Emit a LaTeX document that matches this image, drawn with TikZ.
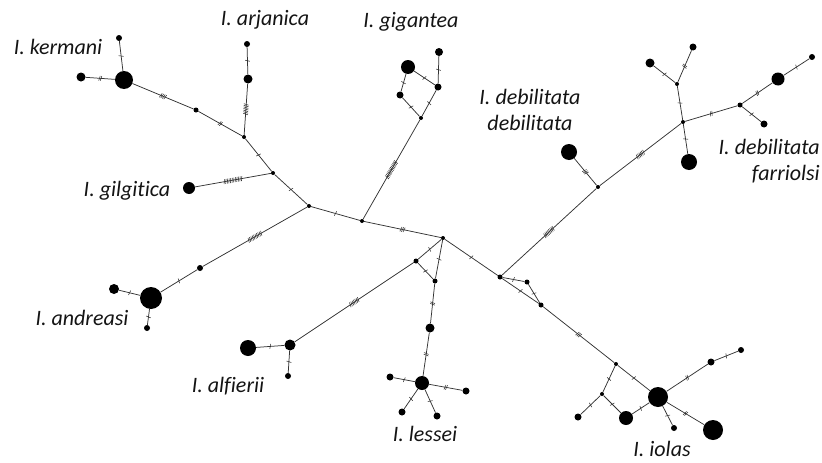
\documentclass[tikz,border=0pt]{standalone}
\usepackage{fontspec}
\setmainfont[Ligatures=NoCommon]{Carlito}
\usetikzlibrary{decorations.markings}
\tikzset{
  hap/.style={circle, fill=black, draw=none, inner sep=0pt, minimum size=#1},
  lbl/.style={font=\fontsize{22}{26}\selectfont\itshape, text=black!92, inner sep=0pt},
  link/.style={draw=black!80, line width=0.75pt},
  mut/.style 2 args={postaction={decorate, decoration={markings,
     mark=at position #1 with {\foreach \k in {1,...,#2}{\draw[black!80, line width=0.55pt] ({(\k-(#2+1)/2)*1.6pt-0.6pt},-2.4pt) -- ++(1.2pt,4.8pt);}}}}}
}
\begin{document}
\begin{tikzpicture}[x=1pt, y=-1pt]
\useasboundingbox (0,0) rectangle (822,463);
% nodes
\node[hap=18pt] (k1) at (124,80) {};
\node[hap=9pt] (k2) at (81,77) {};
\node[hap=6pt] (k3) at (119,38) {};
\node[hap=5pt] (n1) at (196,110) {};
\node[hap=4pt] (j1) at (244,137) {};
\node[hap=6pt] (a1) at (247,44) {};
\node[hap=9pt] (a2) at (248,79) {};
\node[hap=4pt] (j2) at (273,173) {};
\node[hap=12pt] (g1) at (189,188) {};
\node[hap=4pt] (j3) at (309,206) {};
\node[hap=6pt] (n2) at (200,268) {};
\node[hap=22pt] (an1) at (151,298) {};
\node[hap=10pt] (an2) at (114,289) {};
\node[hap=6pt] (an3) at (147,328) {};
\node[hap=4pt] (j4) at (362,221) {};
\node[hap=4pt] (gg0) at (421,118) {};
\node[hap=14pt] (gg1) at (408,67) {};
\node[hap=8pt] (gg2) at (439,52) {};
\node[hap=7pt] (gg3) at (438,87) {};
\node[hap=7pt] (gg4) at (400,95) {};
\node[hap=4pt] (j5) at (443,238) {};
\node[hap=5pt] (j6) at (416,261) {};
\node[hap=11pt] (al1) at (290,345) {};
\node[hap=16pt] (al2) at (248,348) {};
\node[hap=6pt] (al3) at (288,376) {};
\node[hap=5pt] (j7) at (435,281) {};
\node[hap=9pt] (l1) at (430,328) {};
\node[hap=14pt] (l0) at (422,383) {};
\node[hap=7pt] (l2) at (390,377) {};
\node[hap=7pt] (l3) at (466,391) {};
\node[hap=7pt] (l4) at (402,412) {};
\node[hap=7pt] (l5) at (437,416) {};
\node[hap=5pt] (j8) at (500,277) {};
\node[hap=5pt] (j9) at (527,282) {};
\node[hap=5pt] (j10) at (541,305) {};
\node[hap=4pt] (j11) at (598,187) {};
\node[hap=16pt] (dd1) at (569,152) {};
\node[hap=4pt] (j12) at (683,122) {};
\node[hap=4pt] (j13) at (677,84) {};
\node[hap=9pt] (f1) at (650,63) {};
\node[hap=7pt] (f2) at (693,47) {};
\node[hap=16pt] (f3) at (689,162) {};
\node[hap=5pt] (j14) at (740,105) {};
\node[hap=13pt] (f4) at (778,79) {};
\node[hap=6pt] (f5) at (812,57) {};
\node[hap=7pt] (f6) at (764,124) {};
\node[hap=4pt] (i0) at (616,364) {};
\node[hap=20pt] (i1) at (658,397) {};
\node[hap=4pt] (i2) at (602,394) {};
\node[hap=7pt] (i3) at (578,417) {};
\node[hap=14pt] (i4) at (626,418) {};
\node[hap=7pt] (i5) at (711,362) {};
\node[hap=6pt] (i6) at (741,350) {};
\node[hap=6pt] (i7) at (674,428) {};
\node[hap=20pt] (i8) at (713,430) {};
% links
\path[link, mut={0.5}{4}] (k1) -- (n1);
\path[link, mut={0.5}{2}] (k1) -- (k2);
\path[link, mut={0.5}{1}] (k1) -- (k3);
\path[link, mut={0.5}{2}] (n1) -- (j1);
\path[link, mut={0.5}{1}] (a1) -- (a2);
\path[link, mut={0.5}{7}] (a2) -- (j1);
\path[link, mut={0.5}{1}] (j1) -- (j2);
\path[link, mut={0.5}{12}] (g1) -- (j2);
\path[link, mut={0.5}{1}] (j2) -- (j3);
\path[link, mut={0.5}{10}] (j3) -- (n2);
\path[link, mut={0.5}{1}] (n2) -- (an1);
\path[link, mut={0.5}{1}] (an1) -- (an2);
\path[link, mut={0.5}{1}] (an1) -- (an3);
\path[link, mut={0.5}{1}] (j3) -- (j4);
\path[link, mut={0.5}{12}] (j4) -- (gg0);
\path[link, mut={0.5}{1}] (gg1) -- (gg3);
\path[link, mut={0.5}{1}] (gg1) -- (gg4);
\path[link, mut={0.5}{1}] (gg4) -- (gg0);
\path[link, mut={0.5}{1}] (gg3) -- (gg0);
\path[link, mut={0.5}{1}] (gg2) -- (gg3);
\path[link, mut={0.5}{3}] (j4) -- (j5);
\path[link, mut={0.5}{1}] (j5) -- (j6);
\path[link, mut={0.5}{7}] (j6) -- (al1);
\path[link, mut={0.5}{1}] (al1) -- (al2);
\path[link, mut={0.5}{1}] (al1) -- (al3);
\path[link, mut={0.5}{1}] (j6) -- (j7);
\path[link, mut={0.5}{1}] (j5) -- (j7);
\path[link, mut={0.5}{2}] (j7) -- (l1);
\path[link, mut={0.5}{2}] (l1) -- (l0);
\path[link, mut={0.5}{1}] (l0) -- (l2);
\path[link, mut={0.5}{2}] (l0) -- (l3);
\path[link, mut={0.5}{1}] (l0) -- (l4);
\path[link, mut={0.5}{1}] (l0) -- (l5);
\path[link, mut={0.5}{1}] (j5) -- (j8);
\path[link, mut={0.5}{1}] (j8) -- (j9);
\path[link, mut={0.5}{1}] (j9) -- (j10);
\path[link, mut={0.5}{1}] (j8) -- (j10);
\path[link, mut={0.5}{8}] (j8) -- (j11);
\path[link, mut={0.5}{3}] (j11) -- (dd1);
\path[link, mut={0.5}{6}] (j11) -- (j12);
\path[link, mut={0.5}{1}] (j12) -- (j13);
\path[link, mut={0.5}{1}] (j13) -- (f1);
\path[link, mut={0.5}{2}] (j13) -- (f2);
\path[link, mut={0.5}{1}] (j12) -- (f3);
\path[link, mut={0.5}{2}] (j12) -- (j14);
\path[link, mut={0.5}{2}] (j14) -- (f4);
\path[link, mut={0.5}{1}] (f4) -- (f5);
\path[link, mut={0.5}{1}] (j14) -- (f6);
\path[link, mut={0.5}{3}] (j10) -- (i0);
\path[link, mut={0.5}{1}] (i0) -- (i1);
\path[link, mut={0.5}{1}] (i0) -- (i2);
\path[link, mut={0.5}{1}] (i2) -- (i3);
\path[link, mut={0.5}{1}] (i2) -- (i4);
\path[link, mut={0.5}{1}] (i4) -- (i1);
\path[link, mut={0.5}{2}] (i1) -- (i5);
\path[link, mut={0.5}{1}] (i5) -- (i6);
\path[link, mut={0.5}{1}] (i1) -- (i7);
\path[link, mut={0.5}{2}] (i1) -- (i8);
% labels
\node[lbl] (tk) at (58,47) {I. kermani};
\node[lbl] (ta) at (265,20) {I. arjanica};
\node[lbl] (tg) at (411,22) {I. gigantea};
\node[lbl, align=center] (td) at (530,110) {I. debilitata\\debilitata};
\node[lbl, align=right, anchor=east] (tf) at (820,161) {I. debilitata\\farriolsi};
\node[lbl] (tgl) at (127,191) {I. gilgitica};
\node[lbl] (tan) at (82,318) {I. andreasi};
\node[lbl] (tal) at (228,386) {I. alfierii};
\node[lbl] (tl) at (425,434) {I. lessei};
\node[lbl] (ti) at (662,449) {I. iolas};
\end{tikzpicture}
\end{document}
